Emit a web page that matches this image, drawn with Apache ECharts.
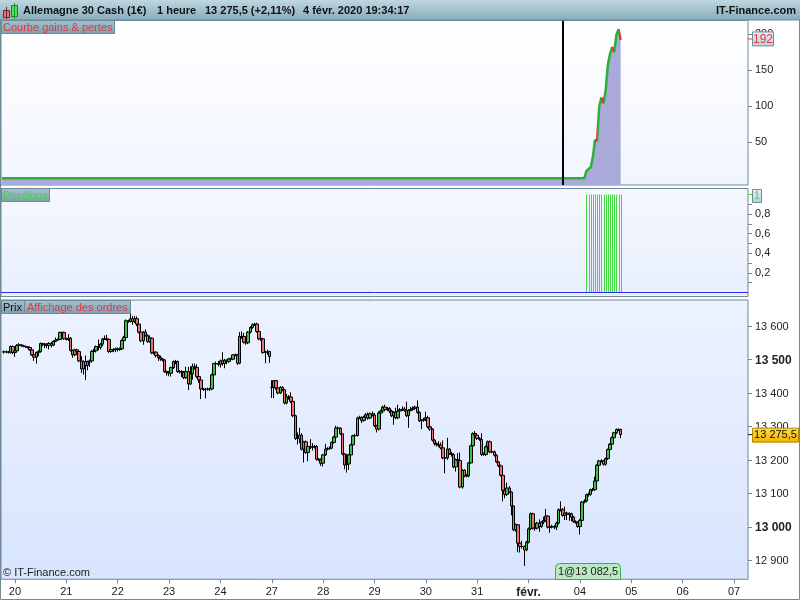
<!DOCTYPE html>
<html><head><meta charset="utf-8">
<style>html,body{margin:0;padding:0;background:#fff}#c{width:800px;height:600px}</style>
<script src="https://cdn.jsdelivr.net/npm/echarts@6/dist/echarts.min.js"></script>
</head><body><div id="c"></div>
<script>
const opens=[null,13523,13523,13523,13522,13539,13521,13526,13542,13544,13541,13540,13538,13536,13529,13514,13507,13521,13524,13548,13544,13546,13542,13548,13543,13554,13558,13560,13581,13581,13562,13560,13564,13527,13514,13529,13524,13496,13472,13494,13482,13494,13496,13524,13526,13539,13536,13546,13561,13562,13560,13524,13530,13529,13532,13530,13532,13557,13566,13616,13614,13622,13614,13622,13606,13582,13556,13582,13572,13554,13564,13520,13522,13512,13506,13502,13499,13464,13462,13459,13476,13494,13494,13464,13464,13462,13446,13464,13427,13457,13479,13476,13449,13439,13412,13411,13411,13412,13412,13454,13488,13487,13486,13496,13488,13498,13494,13502,13501,13514,13514,13489,13569,13569,13552,13550,13582,13596,13604,13606,13584,13562,13562,13521,13521,13524,13417,13417,13437,13415,13400,13417,13410,13370,13388,13388,13375,13332,13264,13264,13274,13232,13254,13222,13240,13238,13238,13240,13202,13200,13190,13215,13232,13234,13235,13252,13268,13295,13295,13278,13218,13185,13188,13215,13245,13272,13273,13325,13327,13318,13328,13335,13325,13338,13334,13302,13292,13340,13346,13358,13350,13354,13346,13332,13342,13326,13346,13350,13352,13348,13332,13348,13351,13354,13358,13342,13317,13318,13321,13326,13299,13292,13259,13249,13246,13244,13236,13206,13206,13232,13219,13216,13179,13201,13198,13119,13169,13152,13152,13191,13242,13279,13274,13264,13261,13216,13216,13239,13254,13224,13224,13214,13194,13182,13154,13109,13097,13116,13104,13062,12991,13006,12951,12941,12941,12931,12954,12994,13039,12996,12996,13011,13001,13014,13019,13032,12999,12999,13001,12999,13011,13051,13051,13034,13041,13037,13039,13029,13016,13013,13001,13019,13074,13077,13096,13097,13111,13111,13137,13184,13197,13197,13187,13204,13231,13247,13266,13281,13291,13291];
const closes=[null,13523,13523,13522,13539,13521,13526,13542,13544,13541,13540,13538,13536,13529,13514,13507,13521,13524,13548,13544,13546,13542,13548,13543,13554,13558,13560,13581,13581,13562,13560,13564,13527,13514,13529,13524,13496,13472,13494,13482,13494,13496,13524,13526,13539,13536,13546,13561,13562,13560,13524,13530,13529,13532,13530,13532,13557,13566,13616,13614,13622,13614,13622,13606,13582,13556,13582,13572,13554,13564,13520,13522,13512,13506,13502,13499,13464,13462,13459,13476,13494,13494,13464,13464,13462,13446,13464,13427,13457,13479,13476,13449,13439,13412,13411,13411,13412,13412,13454,13488,13487,13486,13496,13488,13498,13494,13502,13501,13514,13514,13489,13569,13569,13552,13550,13582,13596,13604,13606,13584,13562,13562,13521,13521,13524,13509,13417,13437,13415,13400,13417,13410,13370,13388,13388,13375,13332,13264,13264,13274,13232,13254,13222,13240,13238,13238,13240,13202,13200,13190,13215,13232,13234,13235,13252,13268,13295,13295,13278,13218,13185,13188,13215,13245,13272,13273,13325,13327,13318,13328,13335,13325,13338,13334,13302,13292,13340,13346,13358,13350,13354,13346,13332,13342,13326,13346,13350,13352,13348,13332,13348,13351,13354,13358,13342,13317,13318,13321,13326,13299,13292,13259,13249,13246,13244,13236,13206,13206,13232,13219,13216,13179,13201,13198,13119,13169,13152,13152,13191,13242,13279,13274,13264,13261,13216,13216,13239,13254,13224,13224,13214,13194,13182,13154,13109,13097,13116,13104,13062,12991,13006,12951,12941,12941,12931,12954,12994,13039,12996,12996,13011,13001,13014,13019,13032,12999,12999,13001,12999,13011,13051,13051,13034,13041,13037,13039,13029,13016,13013,13001,13019,13074,13077,13096,13097,13111,13111,13137,13184,13197,13197,13187,13204,13231,13247,13266,13281,13291,13291,13275.5];
const lows=[null,13518,13519,13518,13518,13516,13508,13522,13540,13538,13537,13535,13533,13526,13511,13496,13488,13510,13520,13540,13534,13534,13530,13536,13540,13552,13556,13558,13578,13559,13557,13556,13524,13505,13510,13514,13492,13460,13455,13439,13468,13478,13490,13519,13521,13528,13530,13540,13558,13556,13520,13520,13522,13522,13524,13526,13528,13553,13562,13610,13611,13604,13609,13600,13578,13552,13544,13568,13550,13550,13516,13515,13506,13496,13496,13494,13460,13452,13450,13449,13472,13486,13460,13458,13448,13442,13442,13409,13424,13440,13470,13445,13430,13382,13406,13384,13407,13406,13408,13450,13478,13480,13476,13482,13474,13486,13490,13496,13498,13510,13484,13486,13562,13548,13544,13546,13578,13592,13600,13580,13558,13556,13517,13489,13514,13490,13385,13385,13410,13396,13397,13405,13366,13366,13380,13370,13328,13260,13246,13250,13228,13192,13218,13196,13232,13228,13234,13198,13196,13182,13180,13212,13228,13230,13232,13248,13265,13290,13274,13214,13172,13162,13170,13212,13242,13268,13270,13322,13310,13314,13324,13320,13322,13330,13298,13282,13288,13336,13342,13346,13346,13340,13328,13305,13322,13322,13340,13346,13344,13328,13296,13345,13348,13350,13338,13313,13292,13314,13316,13295,13287,13255,13243,13240,13238,13232,13202,13160,13200,13215,13210,13175,13165,13190,13115,13114,13148,13148,13148,13188,13238,13270,13260,13257,13212,13212,13212,13235,13220,13220,13210,13190,13178,13150,13076,13085,13092,13100,13034,12987,12985,12924,12923,12935,12883,12927,12950,12990,12992,12988,12992,12985,12997,13008,13015,12995,12982,12995,12993,12990,13007,13046,13030,13020,13020,13018,13016,13012,13009,12997,12977,13015,13070,13073,13090,13093,13106,13107,13133,13180,13192,13183,13183,13200,13227,13240,13254,13277,13286,13265];
const highs=[null,13527,13527,13526,13542,13542,13530,13546,13549,13546,13544,13541,13540,13538,13531,13516,13524,13528,13551,13550,13549,13549,13552,13553,13558,13566,13563,13583,13583,13583,13565,13576,13567,13530,13532,13532,13527,13510,13497,13512,13497,13500,13528,13532,13542,13560,13549,13565,13572,13574,13563,13534,13534,13536,13536,13536,13560,13571,13620,13619,13642,13630,13630,13629,13609,13585,13585,13590,13576,13572,13566,13526,13525,13516,13512,13504,13501,13467,13465,13479,13497,13499,13497,13468,13468,13466,13479,13478,13480,13488,13488,13486,13452,13441,13415,13415,13416,13416,13458,13490,13494,13496,13500,13522,13502,13500,13505,13506,13516,13518,13517,13582,13584,13580,13556,13585,13600,13608,13610,13610,13588,13566,13565,13526,13530,13526,13438,13438,13438,13418,13420,13420,13412,13397,13394,13402,13377,13335,13282,13296,13280,13257,13258,13244,13262,13250,13245,13244,13206,13204,13218,13248,13238,13240,13255,13272,13302,13300,13297,13280,13220,13218,13218,13248,13275,13278,13329,13332,13330,13332,13340,13342,13342,13345,13340,13305,13345,13350,13362,13365,13358,13358,13350,13346,13356,13365,13355,13360,13358,13374,13352,13358,13360,13362,13378,13345,13322,13326,13344,13332,13302,13295,13262,13252,13256,13252,13258,13212,13266,13236,13224,13220,13204,13220,13222,13172,13172,13158,13194,13245,13282,13286,13280,13268,13280,13222,13243,13258,13258,13228,13228,13217,13197,13186,13157,13112,13132,13122,13106,13064,13010,13008,12962,12958,12944,12958,12998,13043,13042,13000,13015,13022,13017,13030,13053,13035,13012,13006,13005,13015,13055,13076,13056,13060,13045,13043,13042,13032,13019,13016,13023,13077,13082,13099,13103,13114,13116,13150,13187,13200,13202,13200,13207,13234,13250,13270,13284,13294,13294,13293];

const barCount=349;
const dayBars=[6,30,54,78,102,126,150,174,198,222,246,270,294,318,342];
const dayLabels=['20','21','22','23','24','27','28','29','30','31','févr.','04','05','06','07'];
const equityBars=[0,272,273,274,275,276,277,278,279,280,281,282,283,284,285,286,287,288,289];
const equityValues=[0,0,10,13,15,29,53,52,100,112,104,122,157,172,182,175,199,207,192];
const equityFallFrom=[277,280,285,288];
const positionBars=[273,274,275,276,277,278,279,280,281,282,283,284,285,286,287,288,289];
const positionValues=[1,1,1,1,1,1,1,1,1,1,1,1,1,1,1,1,1];
const entryBar=262;
const equityTicks=[50,100,150,200];
const positionLabelTicks=[0.2,0.4,0.6,0.8];
const positionTicks=[0.1,0.2,0.3,0.4,0.5,0.6,0.7,0.8,0.9,1];
const priceTicks=[12900,13000,13100,13200,13300,13400,13500,13600];
const boldPrices=[13000,13500];
const lastEquity=192, lastPosition=1, lastPrice=13275.5;

const FONT='"Liberation Sans",Arial,sans-serif';
const EDGE='#6F8A96', GREEN='#2FAF3A', RED='#E03A40';
const categories=Array.from({length:barCount},(_,i)=>{const k=dayBars.indexOf(i);return k>=0?dayLabels[k]:'';});
const grad=(a,b)=>({type:'linear',x:0,y:0,x2:0,y2:1,colorStops:[{offset:0,color:a},{offset:1,color:b}]});
const frLabel=v=>String(v).replace('.',',');
const spaced=v=>{const s=String(v);return s.slice(0,2)+' '+s.slice(2);};
const isTick=i=>dayBars.includes(i);

const candle=opens.map((o,i)=>o===null?'-':[o,closes[i],lows[i],highs[i]]);
const pieces=[];let prev=-1;
equityFallFrom.forEach(b=>{pieces.push({gt:prev,lte:b,color:GREEN});pieces.push({gt:b,lte:b+1,color:RED});prev=b+1;});

const baseX=g=>({type:'category',gridIndex:g,data:categories,boundaryGap:true,axisLine:{show:false},axisTick:{show:false},axisLabel:{show:false},splitLine:{show:false}});
const baseY=(g,min,max)=>({type:'value',gridIndex:g,position:'right',min,max,scale:false,splitLine:{show:false},
  axisLine:{show:false},axisTick:{show:true,length:4,lineStyle:{color:EDGE,width:1}},
  axisLabel:{color:'#222',fontFamily:FONT,fontSize:11,margin:7}});
const gridBox=(top,height,a,b)=>({left:1,width:747,top,height,show:true,backgroundColor:grad(a,b),borderColor:EDGE,borderWidth:1,containLabel:false});

const chart=echarts.init(document.getElementById('c'),null,{renderer:'canvas'});
chart.setOption({
  animation:false,backgroundColor:'#fff',
  grid:[gridBox(20.5,164.5,'#FFFFFF','#F1F5FE'),gridBox(188.5,108,'#F5F8FE','#E8EFFD'),gridBox(300,279.3,'#EDF2FF','#D8E4FE')],
  xAxis:[baseX(0),baseX(1),Object.assign(baseX(2),{
    axisTick:{show:true,length:4,alignWithLabel:true,interval:i=>isTick(i),lineStyle:{color:EDGE}},
    axisLabel:{show:true,interval:i=>isTick(i),hideOverlap:false,color:'#222',fontFamily:FONT,fontSize:11,margin:7,
      formatter:v=>v==='févr.'?'{b|févr.}':v,rich:{b:{fontWeight:'bold',fontFamily:FONT,fontSize:12,color:'#222'}}}
  })],
  yAxis:[
    (()=>{const a=baseY(0,-9.4,219);a.axisTick.customValues=equityTicks;a.axisLabel.customValues=equityTicks;return a;})(),
    (()=>{const a=baseY(1,-0.0408,1.0612);a.axisTick.customValues=positionTicks;a.axisLabel.customValues=positionLabelTicks;a.axisLabel.formatter=frLabel;return a;})(),
    (()=>{const a=baseY(2,12843,13678);a.axisTick.customValues=priceTicks;a.axisLabel.customValues=priceTicks;a.axisLabel.padding=[2,0,0,0];
      a.axisLabel.formatter=v=>boldPrices.includes(v)?'{b|'+spaced(v)+'}':spaced(v);
      a.axisLabel.rich={b:{fontWeight:'bold',fontFamily:FONT,fontSize:12,color:'#222'}};return a;})()
  ],
  visualMap:[{show:false,seriesIndex:0,dimension:0,pieces:pieces,outOfRange:{color:GREEN}}],
  series:[
    {type:'line',xAxisIndex:0,yAxisIndex:0,data:equityBars.map((b,i)=>[b,equityValues[i]]),showSymbol:false,symbol:'none',
     lineStyle:{width:2.5},areaStyle:{color:'#A9AAD9',opacity:1,origin:'start'},clip:true,
     markLine:{silent:true,symbol:'none',label:{show:false},lineStyle:{color:'#000',width:2,type:'solid'},data:[{xAxis:entryBar}]}},
    {type:'custom',xAxisIndex:1,yAxisIndex:1,data:positionBars.map((b,i)=>[b,positionValues[i]]),encode:{x:0,y:1},
     renderItem:(p,api)=>{const a=api.coord([api.value(0),0]),b=api.coord([api.value(0),api.value(1)]);const x=Math.round(a[0])+0.5;
       return {type:'line',shape:{x1:x,y1:a[1],x2:x,y2:b[1]},style:{stroke:'#45D845',lineWidth:1}};},
     markLine:{silent:true,symbol:'none',label:{show:false},lineStyle:{color:'#2A2AE6',width:1,type:'solid'},data:[{yAxis:0}]}},
    {type:'candlestick',xAxisIndex:2,yAxisIndex:2,data:candle,barWidth:3,large:false,
     itemStyle:{color:'#3FBF4A',color0:'#EC6F72',borderColor:'#000',borderColor0:'#000',borderWidth:1}}
  ]
});

const px=(g,v)=>chart.convertToPixel({yAxisIndex:g},v);
const txt=(x,y,s,o)=>({type:'text',z:20,x,y,style:Object.assign({text:s,fontFamily:FONT,fontSize:11,fill:'#111',textVerticalAlign:'middle'},o||{})});
const box=(x,y,w,h,fill,stroke,r)=>({type:'rect',z:18,shape:{x,y,width:w,height:h,r:r||0},style:{fill,stroke:stroke||EDGE,lineWidth:1}});
const tab=()=>grad('#A6C2CF','#7F9FAD');
const tagFill=()=>grad('#E9EFF6','#B9CFDB');
const yEq=px(0,lastEquity),yPr=px(2,lastPrice),yPos=px(1,lastPosition);
const tick=(y,c)=>({type:'line',z:19,shape:{x1:748,y1:y,x2:752,y2:y},style:{stroke:c,lineWidth:1}});
chart.setOption({graphic:[
  {type:'rect',z:15,shape:{x:0,y:0,width:800,height:20},style:{fill:grad('#BFD7E1','#88ACBB')}},
  {type:'line',z:16,shape:{x1:0,y1:20,x2:800,y2:20},style:{stroke:EDGE}},
  {type:'rect',z:14,shape:{x:0.5,y:0.5,width:799,height:599},style:{fill:'none',stroke:EDGE,lineWidth:1}},
  {type:'line',z:19,shape:{x1:6.5,y1:7,x2:6.5,y2:19},style:{stroke:'#7A2020'}},
  box(3.5,10.5,6,7,'#F07070','#7A2020'),
  {type:'line',z:19,shape:{x1:14.5,y1:3,x2:14.5,y2:19},style:{stroke:'#1E9E28'}},
  box(11.5,5.5,6,11,'#50E050','#1E7E28'),
  txt(23,10.5,'Allemagne 30 Cash (1€)',{fontWeight:'bold'}),
  txt(157,10.5,'1 heure',{fontWeight:'bold'}),
  txt(205,10.5,'13 275,5 (+2,11%)',{fontWeight:'bold'}),
  txt(303,10.5,'4 févr. 2020 19:34:17',{fontWeight:'bold'}),
  txt(796,10.5,'IT-Finance.com',{fontWeight:'bold',textAlign:'right'}),
  box(1.5,20.5,113,13,tab()),txt(3,27.5,'Courbe gains & pertes',{fill:'#E8343C'}),
  box(1.5,188.5,48,13,tab()),txt(3,195.5,'Positions',{fill:'#3EDB3E'}),
  box(1.5,300.5,23,13,tab()),txt(3,307.5,'Prix',{fill:'#111'}),
  box(24.5,300.5,106,13,tab()),txt(27,307.5,'Affichage des ordres',{fill:'#E8343C'}),
  txt(3,573,'© IT-Finance.com',{fill:'#222'}),
  {type:'rect',z:18,shape:{x:555.5,y:563.5,width:65,height:16,r:[4,4,0,0]},style:{fill:'#B9E8C2',stroke:'#38B048',lineWidth:1}},
  txt(588,571.5,'1@13 082,5',{textAlign:'center',fill:'#222'}),
  tick(yEq-1,RED),box(752.5,yEq-8,21,14,tagFill()),txt(763,yEq-0.5,String(lastEquity),{fill:'#E8343C',textAlign:'center',fontSize:12}),
  tick(yPos,'#3EDB3E'),box(752.5,189.5,9,13,tagFill()),txt(757,196,String(lastPosition),{fill:'#3EDB3E',textAlign:'center'}),
  tick(yPr,'#111'),box(752.5,yPr-6.5,46,14,grad('#FFE040','#F2B000'),'#B08A00'),txt(775.5,yPr+0.5,'13 275,5',{textAlign:'center'})
]});
</script></body></html>
